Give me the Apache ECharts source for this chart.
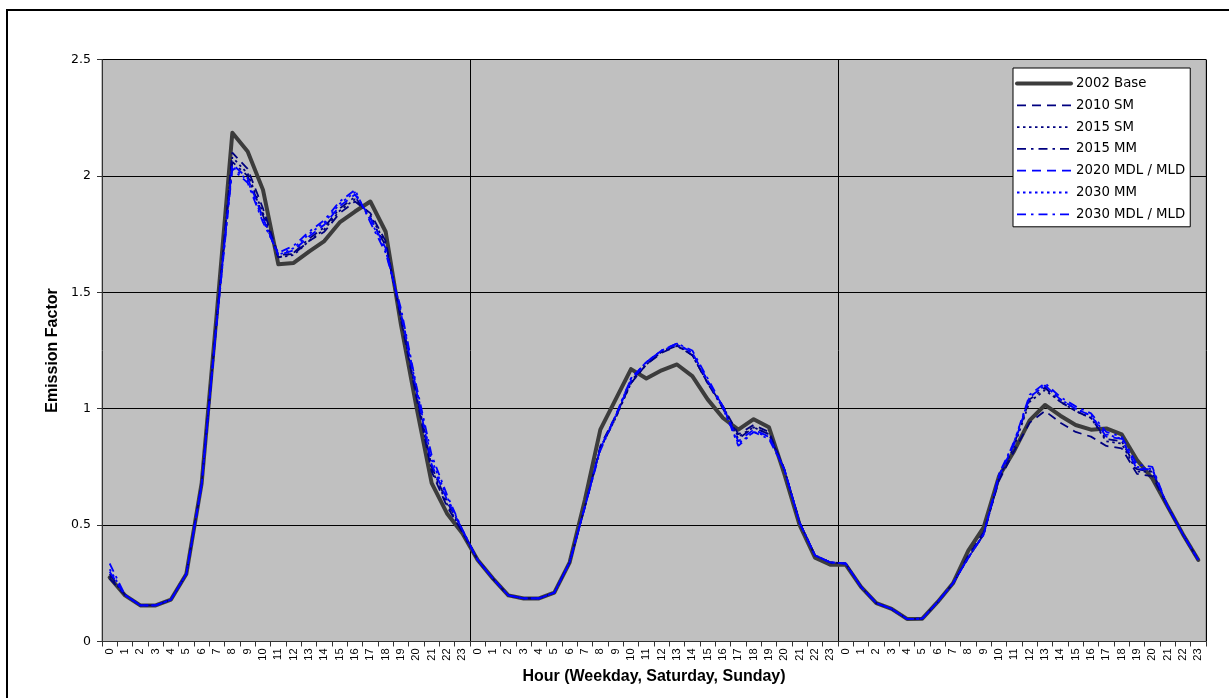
<!DOCTYPE html>
<html>
<head>
<meta charset="utf-8">
<script src="https://cdn.jsdelivr.net/npm/echarts@6/dist/echarts.min.js"></script>
<style>
html,body{margin:0;padding:0;background:#fff;}
#chart{width:1229px;height:698px;}
</style>
</head>
<body>
<div id="chart"></div>
<script>
// Hour labels for weekday, saturday, sunday
const hours = [];
for (let d = 0; d < 3; d++) for (let h = 0; h < 24; h++) hours.push(String(h));

const seriesNames = ['2002 Base', '2010 SM', '2015 SM', '2015 MM', '2020 MDL / MLD', '2030 MM', '2030 MDL / MLD'];

// Values: weekday (0-23), saturday (0-23), sunday (0-23)
const base2002 = [
  0.275,0.198,0.155,0.155,0.18,0.29,0.68,1.42,2.185,2.105,1.94,1.62,1.626,1.675,1.72,1.80,1.847,1.89,1.76,1.36,1.01,0.68,0.55,0.465,
  0.35,0.27,0.198,0.185,0.185,0.21,0.34,0.61,0.91,1.04,1.17,1.13,1.165,1.19,1.14,1.04,0.96,0.91,0.955,0.92,0.72,0.50,0.36,0.33,
  0.33,0.235,0.165,0.14,0.097,0.098,0.17,0.25,0.39,0.49,0.71,0.82,0.95,1.016,0.97,0.93,0.91,0.915,0.89,0.78,0.70,0.58,0.46,0.35
];
const sm2010 = [
  0.27,0.20,0.155,0.155,0.18,0.29,0.68,1.40,2.10,2.03,1.86,1.66,1.665,1.72,1.76,1.84,1.89,1.84,1.72,1.38,1.05,0.73,0.58,0.47,
  0.35,0.27,0.198,0.185,0.185,0.21,0.34,0.58,0.84,0.97,1.11,1.19,1.24,1.27,1.23,1.11,1.01,0.89,0.93,0.90,0.74,0.51,0.37,0.34,
  0.335,0.235,0.165,0.14,0.097,0.098,0.17,0.25,0.37,0.47,0.69,0.82,0.94,0.99,0.94,0.90,0.88,0.84,0.83,0.72,0.71,0.58,0.46,0.35
];
const sm2015 = [
  0.28,0.20,0.155,0.155,0.18,0.29,0.68,1.40,2.08,2.01,1.84,1.65,1.66,1.72,1.77,1.85,1.90,1.83,1.71,1.39,1.06,0.74,0.59,0.47,
  0.35,0.27,0.198,0.185,0.185,0.21,0.34,0.58,0.83,0.96,1.11,1.19,1.245,1.275,1.23,1.11,1.01,0.88,0.92,0.89,0.74,0.51,0.37,0.34,
  0.335,0.235,0.165,0.14,0.097,0.098,0.17,0.25,0.36,0.46,0.70,0.84,1.03,1.08,1.03,0.99,0.96,0.86,0.85,0.73,0.73,0.58,0.46,0.35
];
const mm2015 = [
  0.29,0.20,0.155,0.155,0.18,0.29,0.68,1.39,2.06,2.00,1.83,1.65,1.67,1.73,1.78,1.86,1.91,1.82,1.70,1.40,1.07,0.75,0.60,0.48,
  0.35,0.27,0.198,0.185,0.185,0.21,0.34,0.58,0.83,0.96,1.12,1.19,1.245,1.27,1.23,1.11,1.00,0.87,0.92,0.89,0.74,0.51,0.37,0.34,
  0.335,0.235,0.165,0.14,0.097,0.098,0.17,0.25,0.36,0.46,0.70,0.85,1.04,1.09,1.03,0.99,0.96,0.87,0.86,0.74,0.73,0.58,0.46,0.35
];
const mdl2020 = [
  0.30,0.20,0.155,0.155,0.18,0.29,0.68,1.39,2.05,1.99,1.82,1.66,1.68,1.74,1.79,1.87,1.92,1.82,1.69,1.41,1.08,0.76,0.61,0.48,
  0.35,0.27,0.198,0.185,0.185,0.21,0.34,0.58,0.83,0.97,1.12,1.20,1.25,1.28,1.24,1.12,1.01,0.86,0.91,0.88,0.74,0.51,0.37,0.34,
  0.335,0.235,0.165,0.14,0.097,0.098,0.17,0.25,0.36,0.46,0.71,0.85,1.05,1.10,1.04,1.00,0.97,0.88,0.87,0.74,0.74,0.58,0.46,0.35
];
const mm2030 = [
  0.31,0.20,0.155,0.155,0.18,0.29,0.67,1.38,2.04,1.98,1.81,1.66,1.69,1.75,1.80,1.88,1.93,1.81,1.68,1.42,1.09,0.78,0.62,0.48,
  0.35,0.27,0.198,0.185,0.185,0.21,0.34,0.58,0.83,0.97,1.13,1.20,1.25,1.275,1.24,1.12,1.00,0.85,0.90,0.88,0.74,0.51,0.37,0.34,
  0.335,0.235,0.165,0.14,0.097,0.098,0.17,0.25,0.36,0.46,0.71,0.86,1.05,1.10,1.04,1.00,0.97,0.89,0.87,0.75,0.74,0.58,0.46,0.35
];
const mdl2030 = [
  0.335,0.20,0.155,0.155,0.18,0.29,0.67,1.38,2.03,1.97,1.80,1.67,1.70,1.76,1.81,1.89,1.94,1.80,1.67,1.43,1.10,0.80,0.63,0.48,
  0.35,0.27,0.198,0.185,0.185,0.21,0.34,0.58,0.82,0.97,1.13,1.20,1.25,1.28,1.25,1.13,1.01,0.84,0.90,0.87,0.74,0.51,0.37,0.34,
  0.335,0.235,0.165,0.14,0.097,0.098,0.17,0.25,0.36,0.46,0.72,0.86,1.06,1.11,1.05,1.01,0.98,0.90,0.88,0.76,0.75,0.58,0.46,0.35
];

const yTicks = [0, 0.5, 1, 1.5, 2, 2.5];

const FONT = 'Liberation Sans, Arial, sans-serif';
const WIDE = 'DejaVu Sans, Liberation Sans, sans-serif';
const NAVY = '#000080';
const BLUE = '#0000ff';

function scen(name, data, color, dash) {
  return {
    name: name, type: 'line', data: data, symbol: 'none', showSymbol: false,
    lineStyle: { color: color, width: 1.8, type: dash },
    itemStyle: { color: color },
    z: 2
  };
}

const chart = echarts.init(document.getElementById('chart'), null, { renderer: 'canvas' });
chart.setOption({
  animation: false,
  backgroundColor: '#ffffff',
  textStyle: { fontFamily: FONT },
  graphic: [{
    type: 'rect', shape: { x: 7, y: 10, width: 1240, height: 700 },
    style: { fill: 'none', stroke: '#000', lineWidth: 2 }, silent: true, z: -10
  }],
  grid: {
    left: 102, top: 59.5, right: 23, bottom: 56.5,
    show: true, backgroundColor: '#c0c0c0', borderColor: '#808080', borderWidth: 1
  },
  legend: {
    orient: 'vertical', left: 1013, top: 68,
    backgroundColor: '#ffffff', borderColor: '#000', borderWidth: 1, borderRadius: 0,
    padding: [9, 5, 6, 2],
    itemWidth: 54, itemHeight: 14, itemGap: 8.8,
    itemStyle: { opacity: 0 },
    lineStyle: { width: 'inherit' },
    textStyle: { fontSize: 13.3, color: '#000', fontFamily: WIDE },
    data: seriesNames
  },
  xAxis: {
    type: 'category', data: hours, boundaryGap: true,
    name: 'Hour (Weekday, Saturday, Sunday)', nameLocation: 'middle', nameGap: 27,
    nameTextStyle: { fontSize: 16, fontWeight: 'bold', color: '#000', fontFamily: FONT },
    axisLine: { lineStyle: { color: '#333', width: 1 } },
    axisTick: { show: true, interval: 0, length: 5, lineStyle: { color: '#333' } },
    axisLabel: { interval: 0, rotate: 90, fontSize: 11, color: '#000', margin: 7, fontFamily: FONT },
    splitLine: { show: true, interval: function (i) { return i === 24 || i === 48; }, lineStyle: { color: '#000', width: 1 } }
  },
  yAxis: {
    type: 'value', min: 0, max: 2.5, interval: 0.5,
    name: 'Emission Factor', nameLocation: 'middle', nameGap: 40,
    nameTextStyle: { fontSize: 16, fontWeight: 'bold', color: '#000', fontFamily: FONT },
    axisLine: { show: true, lineStyle: { color: '#333', width: 1 } },
    axisTick: { show: true, length: 5, lineStyle: { color: '#333' } },
    axisLabel: { fontSize: 12.5, color: '#000', margin: 11, fontFamily: WIDE,
      formatter: function (v) { return yTicks.indexOf(v) >= 0 ? String(v) : ''; } },
    splitLine: { show: true, lineStyle: { color: '#000', width: 1 } }
  },
  series: [
    {
      name: seriesNames[0], type: 'line', data: base2002, symbol: 'none', showSymbol: false,
      lineStyle: { color: '#3c3c3c', width: 4, cap: 'round', join: 'round' },
      itemStyle: { color: '#3c3c3c' }, z: 1
    },
    scen(seriesNames[1], sm2010, NAVY, [9, 6]),
    scen(seriesNames[2], sm2015, NAVY, [2.5, 3.5]),
    scen(seriesNames[3], mm2015, NAVY, [9, 5, 2.5, 5]),
    scen(seriesNames[4], mdl2020, BLUE, [9, 6]),
    scen(seriesNames[5], mm2030, BLUE, [2.5, 3.5]),
    scen(seriesNames[6], mdl2030, BLUE, [9, 5, 2.5, 5])
  ]
});
</script>
</body>
</html>
